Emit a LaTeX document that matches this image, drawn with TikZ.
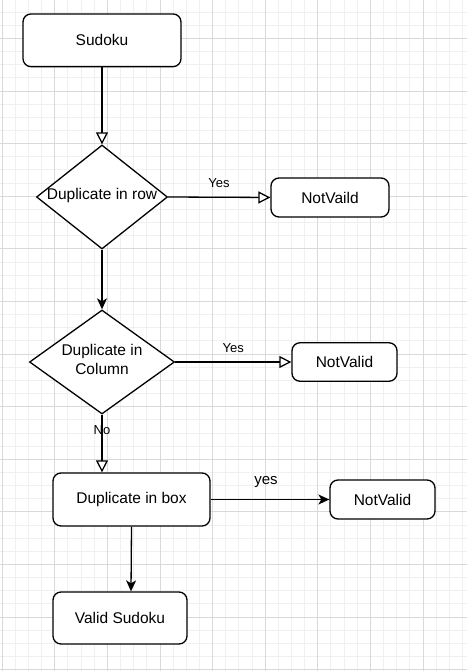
\documentclass[tikz,border=0pt]{standalone}
\usepackage{fontspec}
\setmainfont{Liberation Sans}
\usetikzlibrary{shapes.geometric,arrows.meta}
\definecolor{gridmajor}{HTML}{D9D9D9}
\definecolor{gridminor}{HTML}{F0F0F0}
\tikzset{
  boxnode/.style={draw=black, line width=1.3pt, rectangle, rounded corners=8pt, fill=white, inner sep=0pt, font=\fontsize{15.5}{19}\selectfont},
  decnode/.style={draw=black, line width=1.3pt, diamond, fill=white, inner sep=0pt, aspect=1},
  dectext/.style={inner sep=0pt, align=center, font=\fontsize{15.5}{19}\selectfont},
  edgelabel/.style={inner sep=0pt, font=\fontsize{13}{15}\selectfont},
  openarrow/.style={line width=1.3pt, -{Triangle[open, length=12pt, width=12pt, fill=white]}},
  fullarrow/.style={line width=1.3pt, -{Stealth[length=11pt, width=10pt, inset=3pt]}},
}
\begin{document}
\begin{tikzpicture}[x=1pt, y=-1pt]
\useasboundingbox (0,0) rectangle (467,671);
\fill[white] (0,0) rectangle (467,671);
% minor grid
\foreach \k in {0,...,35} {
  \draw[gridminor, line width=1pt] ({2.2+13.15*\k},0) -- ({2.2+13.15*\k},671);
}
\foreach \k in {-2,...,48} {
  \draw[gridminor, line width=1pt] (0,{38.5+13.15*\k}) -- (467,{38.5+13.15*\k});
}
% major grid
\foreach \k in {0,...,8} {
  \draw[gridmajor, line width=1pt] ({2.2+52.6*\k},0) -- ({2.2+52.6*\k},671);
}
\foreach \k in {0,...,12} {
  \draw[gridmajor, line width=1pt] (0,{38.5+52.6*\k}) -- (467,{38.5+52.6*\k});
}

% nodes
\node[boxnode, minimum width=158pt, minimum height=52.7pt] (sudoku) at (102,40.3) {Sudoku};
\node[decnode, minimum width=131pt, minimum height=104pt] (d1) at (102,197) {};
\node[dectext] (d1t) at (102,195.5) {Duplicate in row};
\node[boxnode, minimum width=118pt, minimum height=39pt] (nv1) at (330,197.5) {NotVaild};
\node[decnode, minimum width=145pt, minimum height=104pt] (d2) at (102,362) {};
\node[dectext] (d2t) at (102,359) {Duplicate in\\Column};
\node[boxnode, minimum width=105pt, minimum height=38.5pt] (nv2) at (344.5,362) {NotValid};
\node[boxnode, minimum width=157pt, minimum height=53pt] (dbox) at (131.5,499.5) {Duplicate in box};
\node[boxnode, minimum width=105pt, minimum height=39pt] (nv3) at (382.5,499.5) {NotValid};
\node[boxnode, minimum width=134pt, minimum height=52pt] (valid) at (120,618) {Valid Sudoku};

% edges
\draw[openarrow] (sudoku.south) -- (d1.north);
\draw[openarrow] (d1.east) -- (nv1.west);
\draw[fullarrow] (d1.south) -- (d2.north);
\draw[openarrow] (d2.east) -- (nv2.west);
\draw[openarrow] (d2.south) -- (d2.south |- dbox.north);
\draw[fullarrow] (dbox.east) -- (nv3.west);
\draw[fullarrow] (dbox.south) -- ([xshift=11pt]valid.north);

% edge labels
\node[edgelabel] (l1) at (219,183) {Yes};
\node[edgelabel] (l2) at (233.3,348) {Yes};
\node[edgelabel] (l3) at (102,430) {No};
\node[edgelabel, font=\fontsize{15}{17}\selectfont] (l4) at (266,482.5) {yes};
\end{tikzpicture}
\end{document}
